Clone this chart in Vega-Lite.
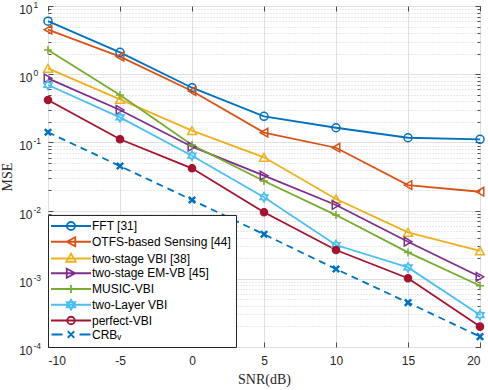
{
  "$schema": "https://vega.github.io/schema/vega-lite/v6.json",
  "width": 432,
  "height": 341,
  "autosize": {"type": "none"},
  "padding": {"left": 48, "top": 6, "right": 8, "bottom": 43},
  "background": "white",
  "config": {
    "view": {"stroke": "#262626", "strokeWidth": 1},
    "axis": {
      "labelFont": "Liberation Sans", "labelFontSize": 12, "labelColor": "#262626",
      "tickColor": "#262626", "tickWidth": 0.8, "domain": false,
      "titleFont": "Liberation Serif", "titleFontWeight": "normal", "titleFontSize": 14, "titleColor": "#262626"
    },
    "legend": {
      "orient": "bottom-left", "offset": 0, "padding": 5, "rowPadding": -1.25,
      "strokeColor": "#262626", "fillColor": "white", "cornerRadius": 0,
      "labelFont": "Liberation Sans", "labelFontSize": 12, "labelColor": "#000000",
      "symbolSize": 100, "symbolStrokeWidth": 1.8, "symbolOffset": 12, "labelOffset": 15
    }
  },
  "data": {"values": [
    {"snr": -10, "mse": 6.0, "series": "FFT [31]"},
    {"snr": -5, "mse": 2.09, "series": "FFT [31]"},
    {"snr": 0, "mse": 0.634, "series": "FFT [31]"},
    {"snr": 5, "mse": 0.241, "series": "FFT [31]"},
    {"snr": 10, "mse": 0.164, "series": "FFT [31]"},
    {"snr": 15, "mse": 0.117, "series": "FFT [31]"},
    {"snr": 20, "mse": 0.111, "series": "FFT [31]"},
    {"snr": -10, "mse": 4.5, "series": "OTFS-based Sensing [44]"},
    {"snr": -5, "mse": 1.81, "series": "OTFS-based Sensing [44]"},
    {"snr": 0, "mse": 0.567, "series": "OTFS-based Sensing [44]"},
    {"snr": 5, "mse": 0.139, "series": "OTFS-based Sensing [44]"},
    {"snr": 10, "mse": 0.0835, "series": "OTFS-based Sensing [44]"},
    {"snr": 15, "mse": 0.0237, "series": "OTFS-based Sensing [44]"},
    {"snr": 20, "mse": 0.0189, "series": "OTFS-based Sensing [44]"},
    {"snr": -10, "mse": 1.22, "series": "two-stage VBI [38]"},
    {"snr": -5, "mse": 0.428, "series": "two-stage VBI [38]"},
    {"snr": 0, "mse": 0.149, "series": "two-stage VBI [38]"},
    {"snr": 5, "mse": 0.0604, "series": "two-stage VBI [38]"},
    {"snr": 10, "mse": 0.0148, "series": "two-stage VBI [38]"},
    {"snr": 15, "mse": 0.00481, "series": "two-stage VBI [38]"},
    {"snr": 20, "mse": 0.00256, "series": "two-stage VBI [38]"},
    {"snr": -10, "mse": 0.87, "series": "two-stage EM-VB [45]"},
    {"snr": -5, "mse": 0.299, "series": "two-stage EM-VB [45]"},
    {"snr": 0, "mse": 0.0865, "series": "two-stage EM-VB [45]"},
    {"snr": 5, "mse": 0.0325, "series": "two-stage EM-VB [45]"},
    {"snr": 10, "mse": 0.0121, "series": "two-stage EM-VB [45]"},
    {"snr": 15, "mse": 0.0035, "series": "two-stage EM-VB [45]"},
    {"snr": 20, "mse": 0.00107, "series": "two-stage EM-VB [45]"},
    {"snr": -10, "mse": 2.26, "series": "MUSIC-VBI"},
    {"snr": -5, "mse": 0.495, "series": "MUSIC-VBI"},
    {"snr": 0, "mse": 0.0917, "series": "MUSIC-VBI"},
    {"snr": 5, "mse": 0.0272, "series": "MUSIC-VBI"},
    {"snr": 10, "mse": 0.0086, "series": "MUSIC-VBI"},
    {"snr": 15, "mse": 0.00244, "series": "MUSIC-VBI"},
    {"snr": 20, "mse": 0.00079, "series": "MUSIC-VBI"},
    {"snr": -10, "mse": 0.695, "series": "two-Layer VBI"},
    {"snr": -5, "mse": 0.233, "series": "two-Layer VBI"},
    {"snr": 0, "mse": 0.0638, "series": "two-Layer VBI"},
    {"snr": 5, "mse": 0.0157, "series": "two-Layer VBI"},
    {"snr": 10, "mse": 0.00313, "series": "two-Layer VBI"},
    {"snr": 15, "mse": 0.00147, "series": "two-Layer VBI"},
    {"snr": 20, "mse": 0.000294, "series": "two-Layer VBI"},
    {"snr": -10, "mse": 0.419, "series": "perfect-VBI"},
    {"snr": -5, "mse": 0.111, "series": "perfect-VBI"},
    {"snr": 0, "mse": 0.0417, "series": "perfect-VBI"},
    {"snr": 5, "mse": 0.00944, "series": "perfect-VBI"},
    {"snr": 10, "mse": 0.00264, "series": "perfect-VBI"},
    {"snr": 15, "mse": 0.00102, "series": "perfect-VBI"},
    {"snr": 20, "mse": 0.000199, "series": "perfect-VBI"},
    {"snr": -10, "mse": 0.1406, "series": "CRBᵥ"},
    {"snr": -5, "mse": 0.045, "series": "CRBᵥ"},
    {"snr": 0, "mse": 0.0143, "series": "CRBᵥ"},
    {"snr": 5, "mse": 0.00449, "series": "CRBᵥ"},
    {"snr": 10, "mse": 0.00139, "series": "CRBᵥ"},
    {"snr": 15, "mse": 0.000447, "series": "CRBᵥ"},
    {"snr": 20, "mse": 0.000142, "series": "CRBᵥ"}
  ]},
  "resolve": {"axis": {"x": "independent", "y": "independent"}},
  "layer": [
    {
      "transform": [{"filter": "datum.series !== 'CRBᵥ'"}],
      "mark": {"type": "line", "strokeWidth": 1.8},
      "encoding": {
        "x": {"field": "snr", "type": "quantitative", "scale": {"domain": [-10, 20], "nice": false},
              "axis": {"orient": "bottom", "values": [-10, -5, 0, 5, 10, 15, 20], "grid": true, "gridColor": "#e0e0e0", "gridWidth": 1, "ticks": true, "tickSize": -5, "labels": false, "title": null}},
        "y": {"field": "mse", "type": "quantitative", "scale": {"type": "log", "domain": [0.0001, 10], "nice": false},
              "axis": {"orient": "left", "values": [0.0002,0.0003,0.0004,0.0005,0.0006,0.0007,0.0008,0.0009,0.002,0.003,0.004,0.005,0.006,0.007,0.008,0.009,0.02,0.03,0.04,0.05,0.06,0.07,0.08,0.09,0.2,0.3,0.4,0.5,0.6,0.7,0.8,0.9,2,3,4,5,6,7,8,9],
                       "grid": true, "gridColor": "#c8c8c8", "gridDash": [1, 2], "gridWidth": 0.8, "ticks": true, "tickSize": -3, "labels": false, "title": null}},
        "color": {"field": "series", "type": "nominal", "legend": null,
                  "scale": {"domain": ["FFT [31]", "OTFS-based Sensing [44]", "two-stage VBI [38]", "two-stage EM-VB [45]", "MUSIC-VBI", "two-Layer VBI", "perfect-VBI"],
                            "range": ["#0072BD", "#D95319", "#EDB120", "#7E2F8E", "#77AC30", "#4DBEEE", "#A2142F"]}}
      }
    },
    {
      "transform": [{"filter": "datum.series === 'CRBᵥ'"}],
      "mark": {"type": "line", "strokeWidth": 1.8, "color": "#0072BD", "strokeDash": [7, 5]},
      "encoding": {
        "x": {"field": "snr", "type": "quantitative",
              "axis": {"orient": "bottom", "values": [-10, -5, 0, 5, 10, 15, 20], "grid": false, "ticks": false, "tickSize": 0, "labelExpr": "'' + datum.value", "labelPadding": 8.5, "title": "SNR(dB)", "titlePadding": 6}},
        "y": {"field": "mse", "type": "quantitative", "scale": {"type": "log", "domain": [0.0001, 10], "nice": false},
              "axis": {"orient": "left", "values": [0.0001, 0.001, 0.01, 0.1, 1, 10], "grid": true, "gridColor": "#e0e0e0", "gridWidth": 1, "ticks": true, "tickSize": -5, "labels": false, "title": null}}
      }
    },
    {
      "transform": [{"filter": "datum.series === 'FFT [31]'"}],
      "mark": {"type": "point", "shape": "circle", "size": 64, "filled": false, "strokeWidth": 1.5, "color": "#0072BD", "opacity": 1},
      "encoding": {
        "x": {"field": "snr", "type": "quantitative", "axis": null},
        "y": {"field": "mse", "type": "quantitative", "scale": {"type": "log", "domain": [0.0001, 10], "nice": false},
              "axis": {"orient": "left", "values": [0.0001, 0.001, 0.01, 0.1, 1, 10], "grid": false, "ticks": false, "tickSize": 0, "labelExpr": "'10'", "labelPadding": 16, "labelOffset": 3.5, "labelAlign": "right", "title": "MSE", "titlePadding": 4}}
      }
    },
    {
      "transform": [{"filter": "datum.series === 'OTFS-based Sensing [44]'"}],
      "mark": {"type": "point", "shape": "triangle-left", "size": 75, "filled": false, "strokeWidth": 1.5, "color": "#D95319", "opacity": 1},
      "encoding": {
        "x": {"field": "snr", "type": "quantitative", "axis": null},
        "y": {"field": "mse", "type": "quantitative", "scale": {"type": "log", "domain": [0.0001, 10], "nice": false},
              "axis": {"orient": "left", "values": [0.0001, 0.001, 0.01, 0.1, 1, 10], "grid": false, "ticks": false, "tickSize": 0, "labelExpr": "'' + round(log(datum.value) / LN10)", "labelFontSize": 8.5, "labelPadding": 15, "labelAlign": "left", "labelOffset": -1.5, "title": null}}
      }
    },
    {
      "transform": [{"filter": "datum.series === 'two-stage VBI [38]'"}],
      "mark": {"type": "point", "shape": "triangle-up", "size": 80, "filled": false, "strokeWidth": 1.5, "color": "#EDB120", "opacity": 1},
      "encoding": {
        "x": {"field": "snr", "type": "quantitative", "axis": null},
        "y": {"field": "mse", "type": "quantitative", "scale": {"type": "log", "domain": [0.0001, 10], "nice": false},
              "axis": {"orient": "right", "values": [0.0002,0.0003,0.0004,0.0005,0.0006,0.0007,0.0008,0.0009,0.002,0.003,0.004,0.005,0.006,0.007,0.008,0.009,0.02,0.03,0.04,0.05,0.06,0.07,0.08,0.09,0.2,0.3,0.4,0.5,0.6,0.7,0.8,0.9,2,3,4,5,6,7,8,9],
                       "grid": false, "ticks": true, "tickSize": -3, "labels": false, "title": null}}
      }
    },
    {
      "transform": [{"filter": "datum.series === 'two-stage EM-VB [45]'"}],
      "mark": {"type": "point", "shape": "triangle-right", "size": 75, "filled": false, "strokeWidth": 1.5, "color": "#7E2F8E", "opacity": 1},
      "encoding": {
        "x": {"field": "snr", "type": "quantitative", "axis": null},
        "y": {"field": "mse", "type": "quantitative", "scale": {"type": "log", "domain": [0.0001, 10], "nice": false},
              "axis": {"orient": "right", "values": [0.0001, 0.001, 0.01, 0.1, 1, 10], "grid": false, "ticks": true, "tickSize": -5, "labels": false, "title": null}}
      }
    },
    {
      "transform": [{"filter": "datum.series === 'MUSIC-VBI'"}],
      "mark": {"type": "point", "shape": "M-1,0L1,0M0,-1L0,1", "size": 64, "filled": false, "strokeWidth": 1.5, "color": "#77AC30", "opacity": 1},
      "encoding": {
        "x": {"field": "snr", "type": "quantitative",
              "axis": {"orient": "top", "values": [-10, -5, 0, 5, 10, 15, 20], "grid": false, "ticks": true, "tickSize": -5, "labels": false, "title": null}},
        "y": {"field": "mse", "type": "quantitative", "scale": {"type": "log", "domain": [0.0001, 10], "nice": false}, "axis": null}
      }
    },
    {
      "transform": [{"filter": "datum.series === 'two-Layer VBI'"}],
      "mark": {"type": "point", "shape": "M0,-1L0.866,0.5L-0.866,0.5ZM0,1L0.866,-0.5L-0.866,-0.5Z", "size": 100, "filled": true, "strokeWidth": 1.2, "fill": "#4DBEEE", "stroke": "#4DBEEE", "opacity": 1},
      "encoding": {
        "x": {"field": "snr", "type": "quantitative", "axis": null},
        "y": {"field": "mse", "type": "quantitative", "scale": {"type": "log", "domain": [0.0001, 10], "nice": false}, "axis": null}
      }
    },
    {
      "transform": [{"filter": "datum.series === 'perfect-VBI'"}],
      "mark": {"type": "point", "shape": "circle", "size": 55, "filled": true, "strokeWidth": 1.2, "fill": "#A2142F", "stroke": "#A2142F", "opacity": 1},
      "encoding": {
        "x": {"field": "snr", "type": "quantitative", "axis": null},
        "y": {"field": "mse", "type": "quantitative", "scale": {"type": "log", "domain": [0.0001, 10], "nice": false}, "axis": null}
      }
    },
    {
      "transform": [{"filter": "datum.series === 'CRBᵥ'"}],
      "mark": {"type": "point", "shape": "M-1,-1L1,1M-1,1L1,-1", "size": 40, "filled": false, "strokeWidth": 2.5, "color": "#0072BD", "opacity": 1},
      "encoding": {
        "x": {"field": "snr", "type": "quantitative", "axis": null},
        "y": {"field": "mse", "type": "quantitative", "scale": {"type": "log", "domain": [0.0001, 10], "nice": false}, "axis": null}
      }
    },
    {
      "mark": {"type": "point", "opacity": 0},
      "encoding": {
        "x": {"field": "snr", "type": "quantitative", "axis": null},
        "y": {"field": "mse", "type": "quantitative", "scale": {"type": "log", "domain": [0.0001, 10], "nice": false}, "axis": null},
        "shape": {"field": "series", "type": "nominal", "legend": {"title": null},
                  "scale": {"domain": ["FFT [31]", "OTFS-based Sensing [44]", "two-stage VBI [38]", "two-stage EM-VB [45]", "MUSIC-VBI", "two-Layer VBI", "perfect-VBI", "CRBᵥ"],
                            "range": [
                              "M-4,0L4,0M0.8,0A0.8,0.8,0,1,1,-0.8,0A0.8,0.8,0,1,1,0.8,0",
                              "M-4,0L4,0M-0.85,0L0.85,-0.9L0.85,0.9Z",
                              "M-4,0L4,0M0,-1L0.95,0.65L-0.95,0.65Z",
                              "M-4,0L4,0M0.85,0L-0.85,-0.9L-0.85,0.9Z",
                              "M-4,0L4,0M0,-0.8L0,0.8",
                              "M-4,0L4,0M0,-1L0.866,0.5L-0.866,0.5ZM0,1L0.866,-0.5L-0.866,-0.5Z",
                              "M-4,0L4,0M0.75,0A0.75,0.75,0,1,1,-0.75,0A0.75,0.75,0,1,1,0.75,0Z",
                              "M-3.9,0L-1.7,0M1.7,0L3.9,0M-0.65,-0.65L0.65,0.65M-0.65,0.65L0.65,-0.65"
                            ]}},
        "stroke": {"field": "series", "type": "nominal", "legend": {"title": null},
                   "scale": {"domain": ["FFT [31]", "OTFS-based Sensing [44]", "two-stage VBI [38]", "two-stage EM-VB [45]", "MUSIC-VBI", "two-Layer VBI", "perfect-VBI", "CRBᵥ"],
                             "range": ["#0072BD", "#D95319", "#EDB120", "#7E2F8E", "#77AC30", "#4DBEEE", "#A2142F", "#0072BD"]}},
        "fill": {"field": "series", "type": "nominal", "legend": {"title": null},
                 "scale": {"domain": ["FFT [31]", "OTFS-based Sensing [44]", "two-stage VBI [38]", "two-stage EM-VB [45]", "MUSIC-VBI", "two-Layer VBI", "perfect-VBI", "CRBᵥ"],
                           "range": ["transparent", "transparent", "transparent", "transparent", "transparent", "#4DBEEE", "#A2142F", "transparent"]}}
      }
    }
  ]
}
